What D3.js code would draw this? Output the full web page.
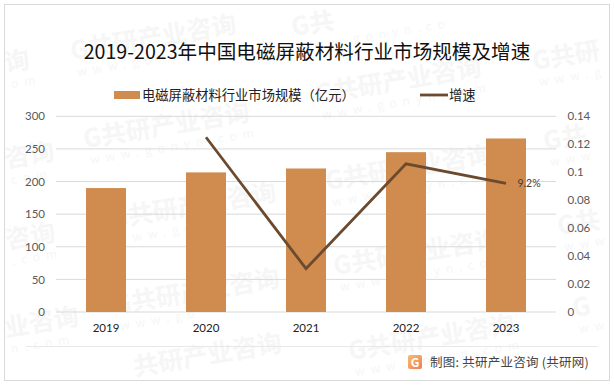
<!DOCTYPE html>
<html>
<head>
<meta charset="utf-8">
<script src="https://cdn.jsdelivr.net/npm/d3@7"></script>
<style>
  html, body { margin: 0; padding: 0; background: #fff; }
  text { font-family: "Noto Sans CJK SC", "Noto Sans", sans-serif; }
  .num { font-family: Lato, "Noto Sans", sans-serif; }
</style>
</head>
<body>
<div id="chart"></div>
<script>
// Chart data
var years = ["2019", "2020", "2021", "2022", "2023"];
var marketSize = [190, 214, 220, 245, 266];
var growth = [null, 0.125, 0.031, 0.106, 0.092];
var leftTicks = [0, 50, 100, 150, 200, 250, 300];
var rightTicks = [0, 0.02, 0.04, 0.06, 0.08, 0.1, 0.12, 0.14];

var svgWidth = 614;
var svgHeight = 387;

var svg = d3.select("#chart")
  .append("svg")
  .attr("width", svgWidth)
  .attr("height", svgHeight)
  .style("display", "block");

// Outer frame
svg.append("rect")
  .attr("x", 4.5)
  .attr("y", 4.5)
  .attr("width", 605)
  .attr("height", 376)
  .attr("fill", "#fff")
  .attr("stroke", "#d9d9d9");

// Scales
var xScale = d3.scaleBand().domain(years).range([56, 556]);
var yLeft = d3.scaleLinear().domain([0, 300]).range([312, 116.3]);
var yRight = d3.scaleLinear().domain([0, 0.14]).range([312, 116.3]);

// Watermark pieces: start x, start y, big text, small text
var watermarkSpots = [
  [72, 60, "G共研产业咨询", "www.gonyn"],
  [85, 148, "G共研产业咨询", "www.gonyn.com"],
  [6, 72, "询", "om"],
  [6, 168, "咨询", "com"],
  [7, 249, "咨询", ".com"],
  [6, 337, "业咨询", "n.com"],
  [112, 228, "G共研产业咨询", "www.gon"],
  [115, 314, "G共研产业咨询", "www.go"],
  [135, 376, "共研产业咨询", ""],
  [293, 36, "G共", "www.gonyn.co"],
  [317, 103, "G共研产业咨询", "www.gonyn.com"],
  [327, 190, "G共研产业咨询", "www.gonyn.com"],
  [335, 275, "G共研产业咨询", "www.gonyn.com"],
  [350, 360, "G共研产业咨询", "www.gonyn.com"],
  [534, 70, "G共研", "www.g"],
  [545, 150, "G共", "www"],
  [559, 235, "G共", "www"],
  [574, 317, "G", "ww"]
];
var watermark = svg.append("g").attr("class", "watermark");
watermarkSpots.forEach(function(p) {
  var g = watermark.append("g")
    .attr("transform", `translate(${p[0]}, ${p[1]}) rotate(-9.5)`);
  g.append("text")
    .attr("font-size", 25)
    .attr("font-weight", "bold")
    .attr("fill", "#f6f6f6")
    .text(p[2]);
  g.append("text")
    .attr("x", 3)
    .attr("y", 17)
    .attr("font-size", 12)
    .attr("letter-spacing", 6)
    .attr("fill", "#f6f6f6")
    .text(p[3]);
});

// Title
svg.append("text")
  .attr("x", 307)
  .attr("y", 59)
  .attr("text-anchor", "middle")
  .attr("font-size", 19.6)
  .attr("fill", "#111")
  .text("2019-2023年中国电磁屏蔽材料行业市场规模及增速");

// Legend
svg.append("rect")
  .attr("x", 114)
  .attr("y", 91)
  .attr("width", 26)
  .attr("height", 8)
  .attr("fill", "#d08b4e");
svg.append("text")
  .attr("x", 142)
  .attr("y", 100)
  .attr("font-size", 13.3)
  .attr("fill", "#222")
  .text("电磁屏蔽材料行业市场规模（亿元）");
svg.append("line")
  .attr("x1", 420)
  .attr("x2", 448)
  .attr("y1", 95)
  .attr("y2", 95)
  .attr("stroke", "#6b4a2f")
  .attr("stroke-width", 2.8);
svg.append("text")
  .attr("x", 449)
  .attr("y", 100)
  .attr("font-size", 13.3)
  .attr("fill", "#222")
  .text("增速");

// Gridlines
svg.append("g")
  .selectAll("line")
  .data(leftTicks)
  .enter()
  .append("line")
  .attr("x1", 56)
  .attr("x2", 556)
  .attr("y1", d => yLeft(d))
  .attr("y2", d => yLeft(d))
  .attr("stroke", "#d9d9d9");

// Axes
var leftAxis = d3.axisLeft(yLeft).tickValues(leftTicks).tickSize(0).tickPadding(11);
var rightAxis = d3.axisRight(yRight).tickValues(rightTicks).tickSize(0).tickPadding(11.5)
  .tickFormat(d => String(d));
var bottomAxis = d3.axisBottom(xScale).tickSize(0).tickPadding(12);

svg.append("g")
  .attr("transform", "translate(56, 0)")
  .call(leftAxis)
  .call(g => g.select(".domain").remove())
  .call(g => g.selectAll("text").attr("class", "num").attr("font-size", 11.5).attr("fill", "#595959"));

svg.append("g")
  .attr("transform", "translate(556, 0)")
  .call(rightAxis)
  .call(g => g.select(".domain").remove())
  .call(g => g.selectAll("text").attr("class", "num").attr("font-size", 11.5).attr("fill", "#595959"));

svg.append("g")
  .attr("transform", "translate(0, 312)")
  .call(bottomAxis)
  .call(g => g.select(".domain").remove())
  .call(g => g.selectAll("text").attr("class", "num").attr("font-size", 11.5).attr("fill", "#222"));

// Bars
svg.append("g")
  .selectAll("rect")
  .data(years)
  .enter()
  .append("rect")
  .attr("x", d => xScale(d) + xScale.bandwidth() / 2 - 20)
  .attr("y", (d, i) => yLeft(marketSize[i]))
  .attr("width", 40)
  .attr("height", (d, i) => yLeft(0) - yLeft(marketSize[i]))
  .attr("fill", "#d08b4e");

// Growth line
var line = d3.line()
  .defined(d => d.value !== null)
  .x(d => xScale(d.year) + xScale.bandwidth() / 2)
  .y(d => yRight(d.value));

var lineData = years.map((y, i) => ({ year: y, value: growth[i] }));

svg.append("path")
  .datum(lineData)
  .attr("d", line)
  .attr("fill", "none")
  .attr("stroke", "#6b4a2f")
  .attr("stroke-width", 2.8);

// Last point label
svg.append("text")
  .attr("class", "num")
  .attr("x", xScale("2023") + xScale.bandwidth() / 2 + 11.5)
  .attr("y", yRight(0.092) + 4)
  .attr("font-size", 10.5)
  .attr("fill", "#404040")
  .text("9.2%");

// Footer
svg.append("line")
  .attr("x1", 26)
  .attr("x2", 598)
  .attr("y1", 346.5)
  .attr("y2", 346.5)
  .attr("stroke", "#e8e8e8");

var logoFill = svg.append("defs").append("linearGradient")
  .attr("id", "logoFill")
  .attr("x1", 0).attr("y1", 0).attr("x2", 1).attr("y2", 1);
logoFill.append("stop").attr("offset", 0).attr("stop-color", "#f9bd6b");
logoFill.append("stop").attr("offset", 1).attr("stop-color", "#ef7d5c");

var logo = svg.append("g").attr("transform", "translate(408, 355)");
logo.append("rect")
  .attr("width", 14)
  .attr("height", 14)
  .attr("rx", 2)
  .attr("fill", "url(#logoFill)");
logo.append("text")
  .attr("x", 7)
  .attr("y", 12)
  .attr("text-anchor", "middle")
  .attr("font-size", 12)
  .attr("font-weight", "bold")
  .attr("fill", "#fff")
  .text("G");

svg.append("text")
  .attr("x", 430)
  .attr("y", 367)
  .attr("font-size", 12.5)
  .attr("letter-spacing", 0.25)
  .attr("fill", "#444")
  .text("制图: 共研产业咨询 (共研网)");
</script>
</body>
</html>
